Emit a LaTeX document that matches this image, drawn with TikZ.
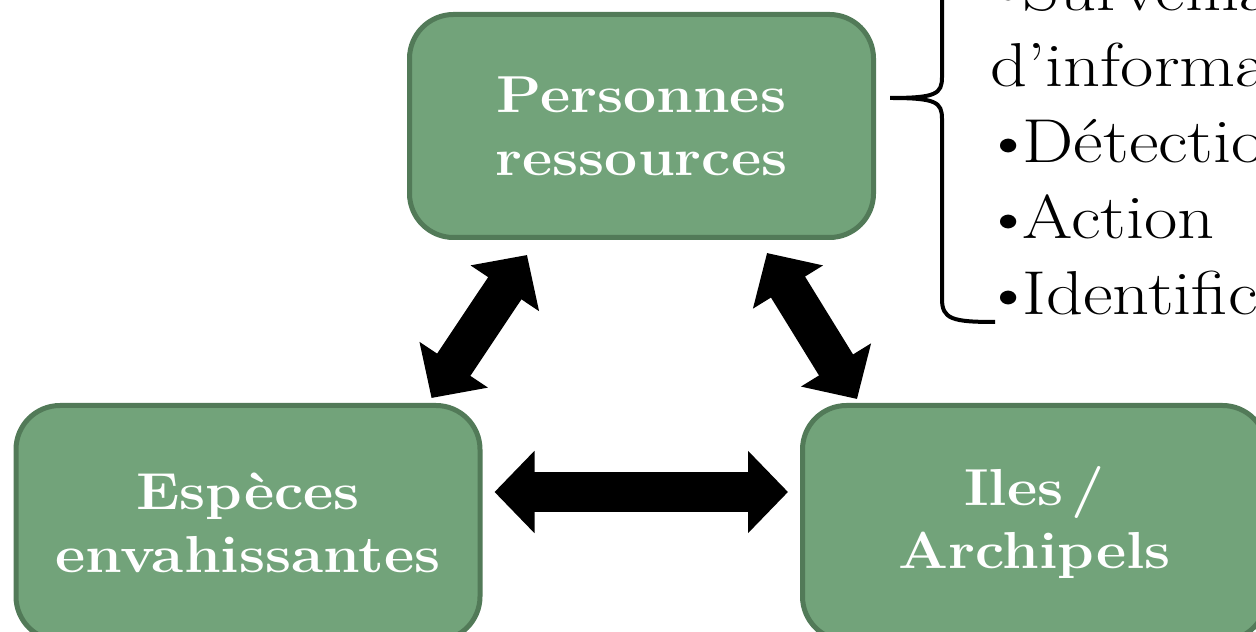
\documentclass[tikz,border=0pt]{standalone}
\usepackage{fontspec}
\usetikzlibrary{arrows.meta,calc}
\newfontfamily\boite{Latin Modern Roman}[FakeStretch=1.13]
\newfontfamily\liste{Latin Modern Roman}[FakeStretch=1.17]
\definecolor{boxgreen}{RGB}{114,163,122}
\definecolor{boxedge}{RGB}{82,122,88}
\newcommand\puce{\hspace*{-4pt}\textbullet\kern-6pt}
\begin{document}
\begin{tikzpicture}[x=0.5pt,y=0.5pt,
  bloc/.style={draw=boxedge,fill=boxgreen,line width=2.5pt,rounded corners=22pt,
    minimum width=232pt,minimum height=111.5pt,align=center,text=white,
    font=\boite\fontsize{26}{31.5}\selectfont\bfseries},
  fleche/.style={line width=20pt,{Triangle[width=40pt,length=20pt]}-{Triangle[width=40pt,length=20pt]}}]
  \useasboundingbox (0,0) rectangle (1256,631);
  \clip (0,0) rectangle (1256,631);
  \node[bloc] (per) at (641.5,505) {Personnes\\ressources};
  \node[bloc,minimum height=117.5pt] (esp) at (248,108) {Espèces\\envahissantes};
  \node[bloc,minimum height=117.5pt] (ile) at (1034.5,108) {Iles\,/\\Archipels};
  \draw[fleche] ($(esp.north east)+(-51,5)$) -- ($(per.south west)+(120,-15)$);
  \draw[fleche] ($(per.south east)+(-109,-13)$) -- ($(ile.north west)+(57,4)$);
  \draw[fleche,shorten <=6pt,shorten >=6pt] ($(esp.east)+(0,31)$) -- ($(ile.west)+(0,31)$);
  % accolade et liste
  \node[anchor=north west,inner sep=0pt,align=left,
    font=\liste\fontsize{31}{38}\selectfont] (lst) at (990,664)
    {\puce Surveillance\\d’information\\\puce Détection\\\puce Action\\\puce Identification};
  \coordinate (pointe) at (890,533);
  \draw[line width=2pt] (995,309) .. controls (952,309) and (942,312) .. (942,332)
    -- (942,512) .. controls (942,529) and (936,533) .. (pointe)
    .. controls (936,533) and (942,537) .. (942,554) -- (942,740);
\end{tikzpicture}
\end{document}
